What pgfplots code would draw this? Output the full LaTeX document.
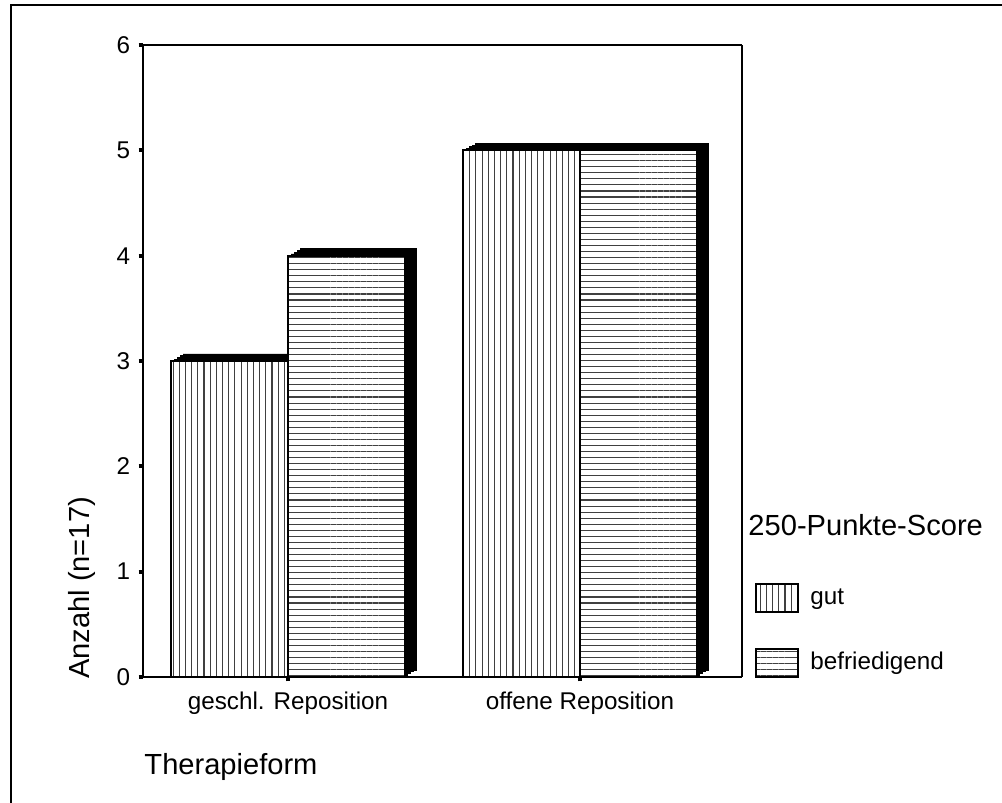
\documentclass[border=0pt]{standalone}
\usepackage{fontspec}
\setmainfont{Liberation Sans}
\usepackage{pgfplots}
\pgfplotsset{compat=1.18}
\usetikzlibrary{patterns.meta}
\pgfplotsset{boxlegend/.style={legend image code/.code={\draw[##1] (0cm,-0.203cm) rectangle (0.609cm,0.203cm);}}}

\begin{document}
\begin{tikzpicture}
\path[use as bounding box] (0,0) rectangle (14.529,11.6435);
\draw[line width=1.2pt] (0.1595,-0.2) -- (0.1595,11.571) -- (14.8,11.571);
\begin{axis}[
  at={(2.0735cm,1.827cm)}, anchor=south west,
  scale only axis, width=8.6855cm, height=9.164cm,
  xmin=-0.4966, xmax=1.5548, ymin=0, ymax=6,
  xtick={0,1}, xticklabels={geschl. Reposition, offene Reposition},
  ytick={0,1,2,3,4,5,6},
  xtick pos=lower, ytick pos=left,
  tick align=outside, major tick length=1.8pt,
  tick style={black, line width=1.6pt},
  separate axis lines,
  axis line style={line width=0.8pt},
  /pgf/number format/assume math mode=true,
  tick label style={font=\fontsize{10}{12}\selectfont},
  xticklabel style={yshift=-0.8pt},
  ylabel={Anzahl (n=17)},
  ylabel style={at={(axis description cs:-0.1018,0.1408)}, anchor=center, font=\fontsize{12}{14}\selectfont},
  xlabel={Therapieform},
  xlabel style={at={(axis description cs:0.0017,-0.155)}, anchor=base west, inner sep=0pt, font=\fontsize{12}{14}\selectfont},
  legend style={at={(axis description cs:1.0217,0.1487)}, anchor=north west, draw=none, fill=none, inner sep=0pt,
    row sep=0.5cm, column sep=0.16cm, font=\fontsize{10}{12}\selectfont,
    nodes={inner sep=0pt}},
  legend cell align=left,
]
\pgfplotsinvokeforeach{1,2,3,4}{
\addplot[ybar, bar width=0.4, bar shift=-0.2, fill=black, draw=black, line width=0.3pt, xshift=#1*0.0435cm, yshift=#1*0.0254cm, forget plot] coordinates {(0,3) (1,5)};
\addplot[ybar, bar width=0.4, bar shift=0.2, fill=black, draw=black, line width=0.3pt, xshift=#1*0.0435cm, yshift=#1*0.0254cm, forget plot] coordinates {(0,4) (1,5)};
}
\addplot[ybar, bar width=0.4, bar shift=-0.2, draw=black, line width=0.8pt, fill=white,
  postaction={pattern={Lines[angle=90,distance=2.55pt,line width=0.45pt]}, pattern color=black!75},
  boxlegend]
  coordinates {(0,3) (1,5)};
\addlegendentry{gut}
\addplot[ybar, bar width=0.4, bar shift=0.2, draw=black, line width=0.8pt, fill=white,
  postaction={pattern={Lines[angle=0,distance=2.5pt,line width=0.45pt]}, pattern color=black!75},
  boxlegend]
  coordinates {(0,4) (1,5)};
\addlegendentry{befriedigend}
\end{axis}
\node[anchor=west, inner sep=0pt, font=\fontsize{12}{14}\selectfont] at (10.846,4.031) {250-Punkte-Score};
\end{tikzpicture}
\end{document}
